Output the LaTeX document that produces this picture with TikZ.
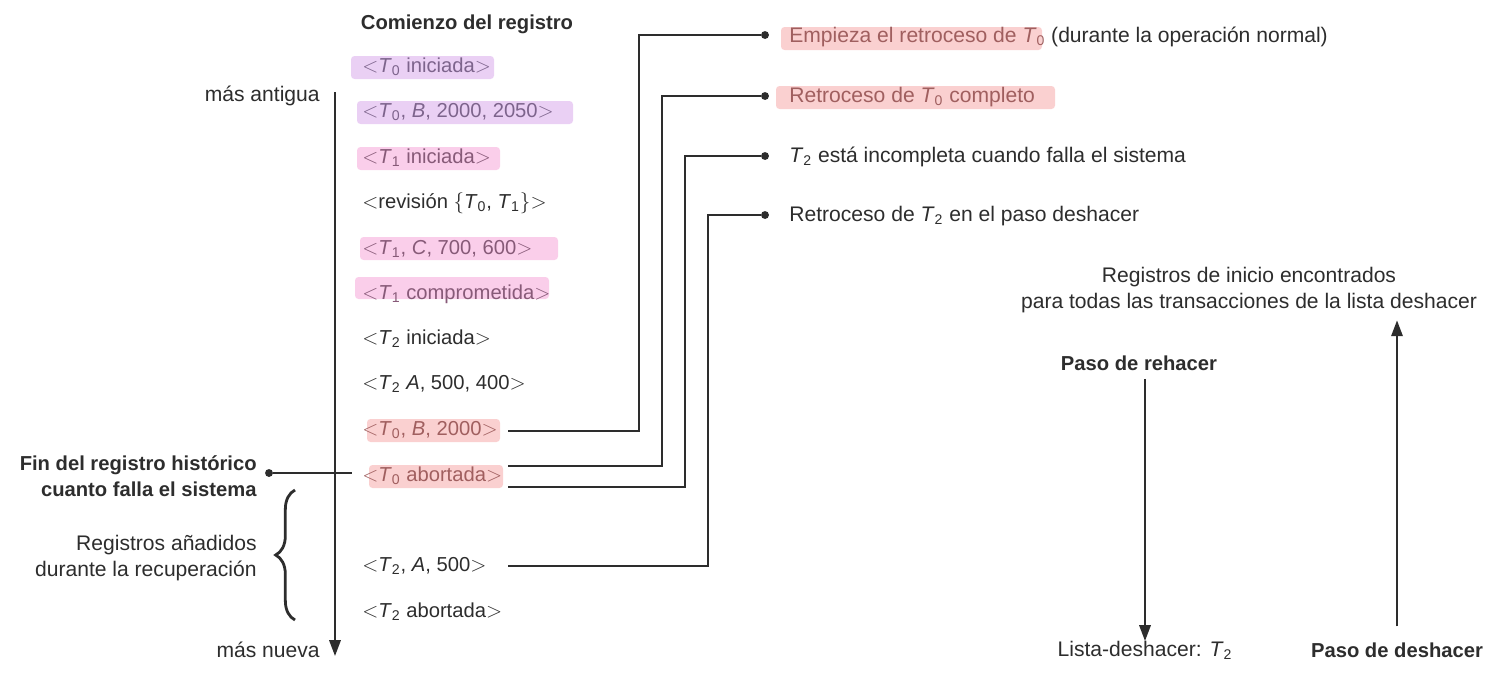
\documentclass[tikz,border=0pt]{standalone}
\usepackage{fontspec}
\setmainfont{Liberation Sans}
\usetikzlibrary{arrows.meta, positioning, decorations.pathreplacing}
\definecolor{tinta}{RGB}{45,45,45}
\definecolor{lila}{RGB}{234,208,244}
\definecolor{rosa}{RGB}{250,206,234}
\definecolor{salmon}{RGB}{250,208,208}
\definecolor{txtlila}{RGB}{125,100,140}
\definecolor{txtrosa}{RGB}{135,90,120}
\definecolor{txtsalmon}{RGB}{160,95,95}
\newcommand{\Tx}[1]{\textit{T}\textsubscript{#1}}
\newcommand{\abre}{$<$}
\newcommand{\cierra}{$>$}

\begin{document}
\begin{tikzpicture}[x=0.02cm, y=-0.02cm,
    letra/.style={font=\fontsize{12}{15}\selectfont, text=tinta, inner sep=0pt},
    nota/.style={letra, text height=8.5pt, text depth=2.5pt},
    reg/.style={nota, font=\fontsize{11.5}{14}\selectfont},
    negrita/.style={letra, font=\fontsize{11.5}{15}\selectfont\bfseries},
    linea/.style={line width=1.1pt, draw=tinta},
    flecha/.style={linea, -{Triangle[length=9pt, width=6.5pt]}},
    punto/.style={circle, fill=tinta, inner sep=0pt, minimum size=4.5pt},
    marca/.style={rounded corners=2pt}]
    \useasboundingbox (0,0) rectangle (1503,680);

    % resaltados
    \fill[lila, marca] (351,56) rectangle (494,79);
    \fill[lila, marca] (357,101) rectangle (573,124);
    \fill[rosa, marca] (357,147) rectangle (500,170);
    \fill[rosa, marca] (360,237) rectangle (558,260);
    \fill[rosa, marca] (355,277) rectangle (549,299);
    \fill[salmon, marca] (367,419) rectangle (500,442);
    \fill[salmon, marca] (369,465) rectangle (503,488);
    \fill[salmon, marca] (781,27) rectangle (1042,50);
    \fill[salmon, marca] (776,86) rectangle (1055,109);

    % registro
    \node[negrita] (comienzo) at (467,24) {Comienzo del registro};
    \foreach \y/\txt/\c [count=\i] in {
        67/{\abre\Tx{0} iniciada\cierra}/txtlila,
        112/{\abre\Tx{0}, \textit{B}, 2000, 2050\cierra}/txtlila,
        158/{\abre\Tx{1} iniciada\cierra}/txtrosa,
        203/{\abre revisión $\{$\Tx{0}, \Tx{1}$\}$\cierra}/tinta,
        249/{\abre\Tx{1}, \textit{C}, 700, 600\cierra}/txtrosa,
        294/{\abre\Tx{1} comprometida\cierra}/txtrosa,
        339/{\abre\Tx{2} iniciada\cierra}/tinta,
        384/{\abre\Tx{2} \textit{A}, 500, 400\cierra}/tinta,
        430/{\abre\Tx{0}, \textit{B}, 2000\cierra}/txtsalmon,
        476/{\abre\Tx{0} abortada\cierra}/txtsalmon,
        566/{\abre\Tx{2}, \textit{A}, 500\cierra}/tinta,
        612/{\abre\Tx{2} abortada\cierra}/tinta}
        \node[reg, anchor=west, text=\c] (e\i) at (362,\y) {\txt};

    % eje del tiempo
    \coordinate (t0) at (335,92);
    \coordinate (t1) at (335,656);
    \draw[flecha] (t0) -- (t1);
    \node[letra, anchor=east] (antigua) at (320,96) {más antigua};
    \node[letra, anchor=east] (nueva) at (320,650) {más nueva};

    \node[negrita, align=right, anchor=east] (fin) at (257,476)
        {Fin del registro histórico\\cuanto falla el sistema};
    \node[punto] (pfin) at (269,473) {};
    \coordinate (qfin) at (352,473);
    \draw[linea] (pfin) -- (qfin);

    \draw[linea, line width=1.6pt, decorate, decoration={brace, amplitude=11pt}]
        (295,620) -- (295,490);
    \node[letra, align=right, anchor=east] (anadidos) at (257,558)
        {Registros añadidos\\durante la recuperación};

    % notas de la derecha
    \node[punto] (d1) at (765,35) {};
    \node[punto] (d2) at (765,96) {};
    \node[punto] (d3) at (765,156) {};
    \node[punto] (d4) at (765,215) {};
    \node[nota, anchor=west] (n1) at (789,37)
        {\textcolor{txtsalmon}{Empieza el retroceso de \Tx{0}} (durante la operación normal)};
    \node[nota, anchor=west, text=txtsalmon] (n2) at (789,97) {Retroceso de \Tx{0} completo};
    \node[nota, anchor=west] (n3) at (789,157) {\Tx{2} está incompleta cuando falla el sistema};
    \node[nota, anchor=west] (n4) at (789,216) {Retroceso de \Tx{2} en el paso deshacer};

    \coordinate (s1) at (508,431);
    \coordinate (s2) at (508,466);
    \coordinate (s3) at (508,487);
    \coordinate (s4) at (508,566);
    \draw[linea] (s1) -- ++(131,0) |- (d1);
    \draw[linea] (s2) -- ++(154,0) |- (d2);
    \draw[linea] (s3) -- ++(177,0) |- (d3);
    \draw[linea] (s4) -- ++(200,0) |- (d4);

    % pasos de recuperacion
    \node[letra, align=center] (inicio) at (1249,290)
        {Registros de inicio encontrados\\para todas las transacciones de la lista deshacer};
    \node[negrita] (rehacer) at (1139,363) {Paso de rehacer};
    \node[nota] (lista) at (1145,651) {Lista-deshacer: \Tx{2}};
    \node[negrita] (deshacer) at (1397,650) {Paso de deshacer};
    \draw[flecha] (rehacer.south -| lista.north) ++(0,8) -- (lista.north);
    \draw[flecha, shorten <=9pt, shorten >=4pt] (deshacer.north) -- (deshacer.north |- inicio.south);
\end{tikzpicture}
\end{document}
